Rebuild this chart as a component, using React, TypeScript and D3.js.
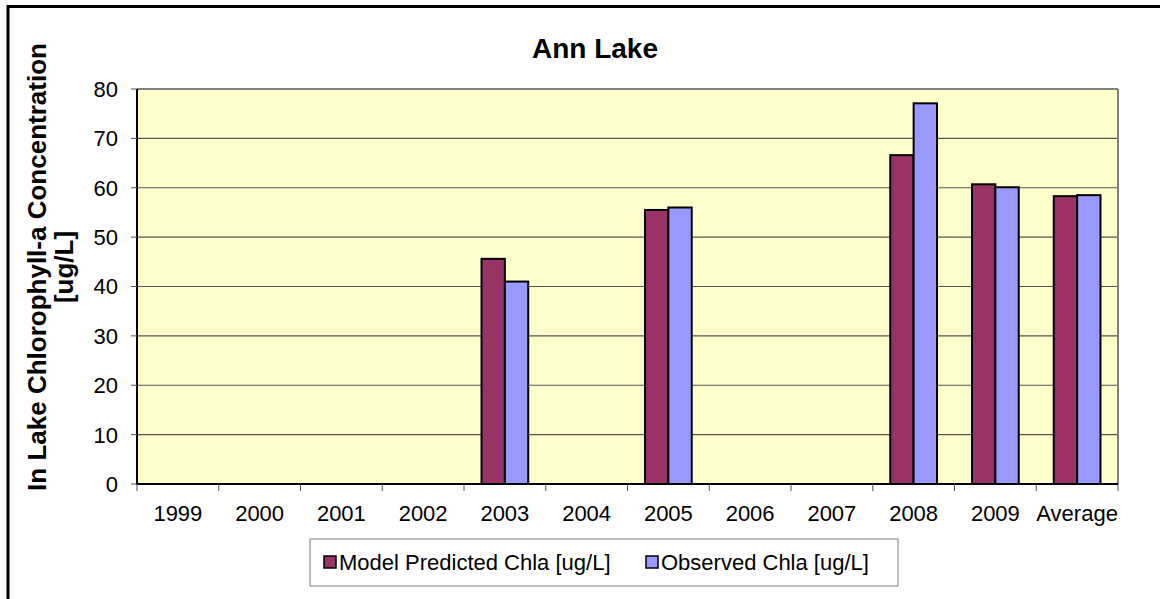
import React from "react";
import * as d3 from "d3";

const categories = ["1999", "2000", "2001", "2002", "2003", "2004", "2005", "2006", "2007", "2008", "2009", "Average"];
const modelPredicted: (number | null)[] = [null, null, null, null, 45.6, null, 55.5, null, null, 66.6, 60.7, 58.3];
const observed: (number | null)[] = [null, null, null, null, 41.0, null, 56.0, null, null, 77.1, 60.1, 58.5];
const seriesNames = ["Model Predicted Chla [ug/L]", "Observed Chla [ug/L]"];
const seriesColors = ["#993366", "#9999FF"];
const yTicks = [0, 10, 20, 30, 40, 50, 60, 70, 80];
const title = "Ann Lake";
const yLabel1 = "In Lake Chlorophyll-a Concentration";
const yLabel2 = "[ug/L]";

const W = 1160;
const H = 599;
const plot = { left: 137, right: 1118, top: 89, bottom: 484 };
const font = "'Liberation Sans', Arial, sans-serif";

export default function App() {
  const x = d3.scaleBand<string>().domain(categories).range([plot.left, plot.right]).padding(0);
  const x1 = d3.scaleBand<string>().domain(seriesNames).range([0, x.bandwidth()]).paddingInner(0).paddingOuter(0.75);
  const y = d3.scaleLinear().domain([0, 80]).range([plot.bottom, plot.top]);
  const data = [modelPredicted, observed];
  const boundaries = categories.map((c) => x(c)!).concat([plot.right]);

  return (
    <svg width={W} height={H} style={{ position: "absolute", left: 0, top: 0, background: "#fff" }} fontFamily={font}>
      <rect x={0} y={0} width={W} height={H} fill="#fff" />
      {/* outer chart border */}
      <rect x={8} y={6.5} width={W + 20} height={H + 20} fill="none" stroke="#000" strokeWidth={3} />
      <text x={595} y={58} textAnchor="middle" fontSize={28} fontWeight="bold">{title}</text>

      {/* plot area */}
      <rect x={plot.left} y={plot.top} width={plot.right - plot.left} height={plot.bottom - plot.top} fill="#FFFFCC" />
      {yTicks.filter((t) => t > 0 && t < 80).map((t) => (
        <line key={t} x1={plot.left} x2={plot.right} y1={y(t)} y2={y(t)} stroke="#555" strokeWidth={1.2} />
      ))}
      <line x1={plot.left} x2={plot.right} y1={plot.top} y2={plot.top} stroke="#808080" strokeWidth={2} />
      <line x1={plot.right} x2={plot.right} y1={plot.top} y2={plot.bottom} stroke="#808080" strokeWidth={2} />

      {/* bars */}
      {data.map((vals, si) =>
        vals.map((v, ci) =>
          v == null ? null : (
            <rect
              key={`${si}-${ci}`}
              x={x(categories[ci])! + x1(seriesNames[si])!}
              y={y(v)}
              width={x1.bandwidth()}
              height={y(0) - y(v)}
              fill={seriesColors[si]}
              stroke="#000"
              strokeWidth={2}
            />
          )
        )
      )}

      {/* axes */}
      <line x1={plot.left} x2={plot.left} y1={plot.top} y2={plot.bottom} stroke="#000" strokeWidth={2} />
      <line x1={plot.left - 1} x2={plot.right} y1={plot.bottom} y2={plot.bottom} stroke="#000" strokeWidth={2} />
      {yTicks.map((t) => (
        <g key={t}>
          <line x1={plot.left - 6} x2={plot.left} y1={y(t)} y2={y(t)} stroke="#555" strokeWidth={1} />
          <text x={plot.left - 19} y={y(t)} dy="0.36em" textAnchor="end" fontSize={22}>{t}</text>
        </g>
      ))}
      {boundaries.map((b, i) => (
        <line key={i} x1={b} x2={b} y1={plot.bottom} y2={plot.bottom + 7} stroke="#555" strokeWidth={1} />
      ))}
      {categories.map((c) => (
        <text key={c} x={x(c)! + x.bandwidth() / 2} y={521} textAnchor="middle" fontSize={22}>{c}</text>
      ))}

      {/* y label */}
      <g transform="translate(0,267) rotate(-90)">
        <text x={0} y={46} textAnchor="middle" fontSize={26} fontWeight="bold">{yLabel1}</text>
        <text x={0} y={73} textAnchor="middle" fontSize={26} fontWeight="bold">{yLabel2}</text>
      </g>

      {/* legend */}
      <rect x={310} y={539} width={588} height={47} fill="#fff" stroke="#808080" strokeWidth={1} />
      {seriesNames.map((s, i) => {
        const lx = i === 0 ? 324 : 646;
        return (
          <g key={s}>
            <rect x={lx} y={556} width={12} height={12} fill={seriesColors[i]} stroke="#000" strokeWidth={1.5} />
            <text x={lx + 15} y={570} fontSize={22}>{s}</text>
          </g>
        );
      })}
    </svg>
  );
}
